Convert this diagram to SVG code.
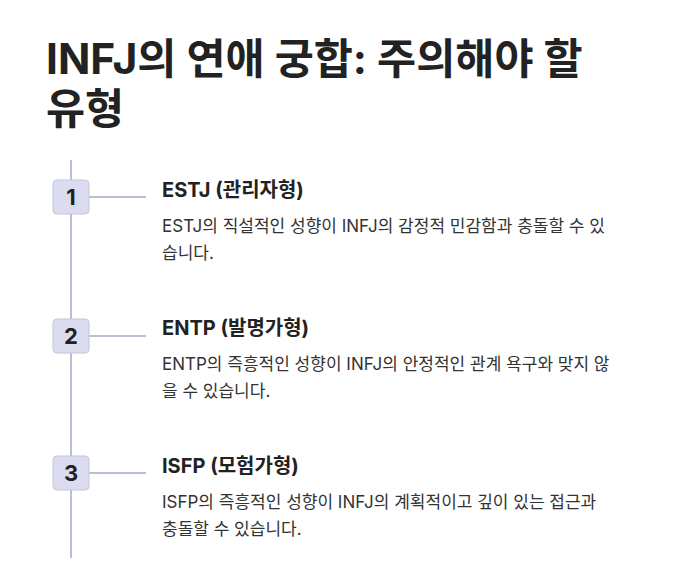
<svg xmlns="http://www.w3.org/2000/svg" width="675" height="579" viewBox="0 0 675 579">
<style>
text{font-family:Inter,"Noto Sans CJK KR",sans-serif;fill:#222}
.t{font-size:42.5px;font-weight:700}
.h{font-size:20px;font-weight:700}
.b{font-size:17px;fill:#333}
.n{font-size:22px;font-weight:700;text-anchor:middle}
.box{fill:#dcdcf0;stroke:#c4c4de;stroke-width:1}
.ln{stroke:#c0bcd4;stroke-width:2;fill:none}
</style>
<rect width="675" height="579" fill="#fff"/>
<text class="t" x="46" y="74">INFJ의 연애 궁합: 주의해야 할</text>
<text class="t" x="46" y="124">유형</text>
<g id="connectors">
<line class="ln" x1="71" y1="160" x2="71" y2="558"/>
<line class="ln" x1="88" y1="197" x2="146" y2="197"/>
<line class="ln" x1="88" y1="336" x2="146" y2="336"/>
<line class="ln" x1="88" y1="473" x2="146" y2="473"/>
</g>
<g id="n1">
<rect class="box" x="53" y="180" width="36" height="34" rx="4"/>
<text class="n" x="71" y="205">1</text>
<text class="h" x="162" y="197">ESTJ (관리자형)</text>
<text class="b" x="162" y="232">ESTJ의 직설적인 성향이 INFJ의 감정적 민감함과 충돌할 수 있</text>
<text class="b" x="162" y="259">습니다.</text>
</g>
<g id="n2">
<rect class="box" x="53" y="319" width="36" height="34" rx="4"/>
<text class="n" x="71" y="344">2</text>
<text class="h" x="162" y="335">ENTP (발명가형)</text>
<text class="b" x="162" y="370">ENTP의 즉흥적인 성향이 INFJ의 안정적인 관계 욕구와 맞지 않</text>
<text class="b" x="162" y="397">을 수 있습니다.</text>
</g>
<g id="n3">
<rect class="box" x="53" y="456" width="36" height="34" rx="4"/>
<text class="n" x="71" y="481">3</text>
<text class="h" x="162" y="473">ISFP (모험가형)</text>
<text class="b" x="162" y="508">ISFP의 즉흥적인 성향이 INFJ의 계획적이고 깊이 있는 접근과</text>
<text class="b" x="162" y="535">충돌할 수 있습니다.</text>
</g>
</svg>
